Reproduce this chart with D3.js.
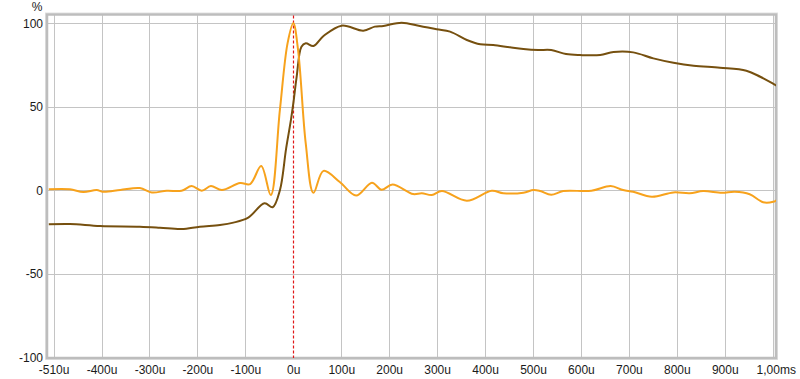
<!DOCTYPE html>
<html><head><meta charset="utf-8">
<script src="https://cdn.jsdelivr.net/npm/d3@7"></script>
<style>body{margin:0;background:#fff}svg{display:block}text{font-family:"Liberation Sans",Arial,sans-serif;font-size:12px;fill:#1a1a1a}</style>
</head><body><svg id="c" width="800" height="379"></svg>
<script>
// time in microseconds
const xTicks = [-500,-400,-300,-200,-100,0,100,200,300,400,500,600,700,800,900,1000];
const xTickLabels = ["-510u","-400u","-300u","-200u","-100u","0u","100u","200u","300u","400u","500u","600u","700u","800u","900u","1,00ms"];
const yTicks = [-100,-50,0,50,100];
const yTickLabels = ["-100","-50","0","50","100"];

const impulseT = [-510,-466,-438,-410,-397,-361,-320,-295,-264,-233,-212,-191,-172,-149,-111,-90,-67,-47,-28,-12,0,10,26,42,63,97,131,164,184,207,250,268,289,310,362,414,438,480,501,515,538,563,622,662,688,709,748,793,827,855,894,921,952,980,1001,1009];
const impulseV = [0.7,0.7,-1,0.2,-0.8,0.2,1.4,-1.2,-0.2,-0.2,2.6,-0.2,2.6,0.2,4.4,3.8,14.6,-2.8,48,88,100,84,28,-1.4,11.7,5,-3.1,4.6,0.4,3.5,-2.2,-1.7,-2.8,-0.4,-6.2,-0.2,-1.7,-1.4,0.2,-0.4,-2.6,-0.4,-0.2,2.6,0.2,-0.8,-3.8,-1.2,-1.7,-0.4,-1.4,-0.8,-2.3,-7.1,-6.8,-5.7];

const stepT = [-510,-466,-403,-320,-278,-233,-195,-153,-125,-94,-60,-43,-28,-15,-5,0,7,17,26,42,63,101,146,170,188,226,264,299,327,362,390,417,452,480,511,538,569,598,640,668,709,751,793,835,890,945,974,1008];
const stepV = [-20.3,-20.1,-21.3,-21.7,-22.3,-23.1,-21.7,-20.7,-19.3,-16.3,-7.7,-10.1,0,25,42,52,68,86,88,86.4,92.4,98.6,95.6,98,98.4,100.4,98.4,96.4,95,90,87.4,87,85.6,84.6,84,84,81.6,81,81,82.8,82.6,79,76.4,74.6,73.4,71.6,68,62.7];

const svg = d3.select("#c");
const x = d3.scaleLinear().domain([-510,1000]).range([48.8,772.7]);
const y = d3.scaleLinear().domain([-100,100]).range([357.5,23.3]);
const L=47, R=776, T=14.5, B=358;

svg.append("clipPath").attr("id","clip").append("rect").attr("x",L).attr("y",T).attr("width",R-L).attr("height",B-T);

// grid
const g = svg.append("g");
g.selectAll(".vx").data(xTicks).enter().append("line")
 .attr("x1",d=>Math.round(x(d))+0.5).attr("x2",d=>Math.round(x(d))+0.5).attr("y1",T).attr("y2",B)
 .attr("stroke",d=>d===0?"none":"#c4c4c4").attr("stroke-width",1);
g.selectAll(".hy").data(yTicks.filter(d=>d>-100)).enter().append("line")
 .attr("x1",L).attr("x2",R).attr("y1",d=>Math.round(y(d))+0.5).attr("y2",d=>Math.round(y(d))+0.5)
 .attr("stroke","#c4c4c4").attr("stroke-width",1);

// frame
svg.append("rect").attr("x",L-1.5).attr("y",T-1.5).attr("width",R-L+3).attr("height",B-T+3)
 .attr("fill","none").attr("stroke","#e2e2e2").attr("stroke-width",1);
svg.append("rect").attr("x",L).attr("y",T).attr("width",R-L).attr("height",B-T)
 .attr("fill","none").attr("stroke","#bdbdbd").attr("stroke-width",2.5);

// zero marker
svg.append("line").attr("x1",Math.round(x(0))+0.5).attr("x2",Math.round(x(0))+0.5).attr("y1",T+1).attr("y2",B)
 .attr("stroke","#e01818").attr("stroke-width",1.2).attr("stroke-dasharray","3,2");

const line = d3.line().x(d=>x(d[0])).y(d=>y(d[1])).curve(d3.curveCatmullRom.alpha(0.5));
const plot = svg.append("g").attr("clip-path","url(#clip)");
plot.append("path").datum(stepT.map((t,i)=>[t,stepV[i]])).attr("d",line)
 .attr("fill","none").attr("stroke","#76500f").attr("stroke-width",2);
plot.append("path").datum(impulseT.map((t,i)=>[t,impulseV[i]])).attr("d",line)
 .attr("fill","none").attr("stroke","#f7a21c").attr("stroke-width",2);

// axes labels
const xa = d3.axisBottom(x).tickValues(xTicks).tickSize(0).tickFormat((d,i)=>xTickLabels[i]);
const xg = svg.append("g").attr("transform","translate(0,362)").call(xa);
xg.select(".domain").remove();
xg.selectAll("text").attr("dy","0.71em").style("font-size","12px").attr("fill","#1a1a1a");
xg.selectAll("text").filter((d,i)=>i===xTicks.length-1).attr("dx","3");
const ya = d3.axisLeft(y).tickValues(yTicks).tickSize(0).tickFormat((d,i)=>yTickLabels[i]);
const yg = svg.append("g").attr("transform","translate(43,0)").call(ya);
yg.select(".domain").remove();
yg.selectAll("text").attr("x",0).style("font-size","12px").attr("fill","#1a1a1a");
svg.append("text").attr("x",37).attr("y",11).attr("text-anchor","middle").text("%");
</script></body></html>
